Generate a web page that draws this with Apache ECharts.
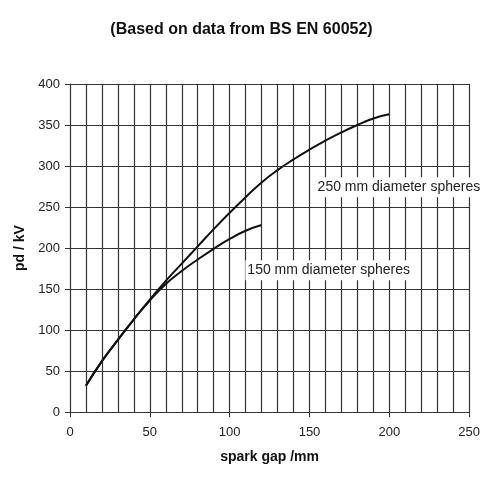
<!DOCTYPE html>
<html>
<head>
<meta charset="utf-8">
<script src="https://cdn.jsdelivr.net/npm/echarts@6/dist/echarts.min.js"></script>
<style>
  html, body { margin: 0; padding: 0; background: #fff; }
  #chart { width: 483px; height: 482px; }
</style>
</head>
<body>
<div id="chart"></div>
<script>
var gap250 = [10, 20, 30, 40, 50, 60, 70, 80, 90, 100, 110, 120, 130, 140, 150, 160, 170, 180, 190, 200];
var kv250 = [32, 62, 88, 113, 137, 160, 181, 202, 223, 243, 262, 280, 295, 308, 320, 331, 341, 350, 358, 363];
var gap150 = [10, 20, 30, 40, 50, 60, 70, 80, 90, 100, 110, 120];
var kv150 = [32, 62, 88, 113, 136, 156, 172, 186, 199, 211, 221, 228];

function pairs(xs, ys) {
    var out = [];
    for (var i = 0; i < xs.length; i++) {
        out.push([xs[i], ys[i]]);
    }
    return out;
}

var gridLine = { color: '#333', width: 1.2 };
var font = 'Liberation Sans, Arial, sans-serif';

function tag(text, x, y) {
    return {
        coord: [x, y],
        symbol: 'circle',
        symbolSize: 1,
        itemStyle: { color: 'rgba(0,0,0,0)' },
        label: {
            show: true,
            position: 'inside',
            formatter: text,
            color: '#222',
            fontFamily: font,
            fontSize: 14,
            backgroundColor: '#fff',
            padding: [3, 2]
        }
    };
}

var chart = echarts.init(document.getElementById('chart'));
chart.setOption({
    animation: false,
    title: {
        text: '(Based on data from BS EN 60052)',
        left: 'center',
        top: 17,
        textStyle: { fontFamily: font, fontSize: 16, fontWeight: 'bold', color: '#111' }
    },
    grid: { left: 70, right: 11, top: 84, bottom: 70 },
    xAxis: {
        type: 'value',
        min: 0,
        max: 250,
        interval: 50,
        name: 'spark gap /mm',
        nameLocation: 'middle',
        nameGap: 38,
        nameTextStyle: { fontFamily: font, fontSize: 14, fontWeight: 'bold', color: '#111' },
        axisLine: { lineStyle: { color: '#333' } },
        axisTick: { show: true, length: 5, lineStyle: { color: '#333' } },
        axisLabel: { fontFamily: font, fontSize: 13, color: '#222', margin: 14 },
        splitLine: { show: true, lineStyle: gridLine },
        minorTick: { show: false, splitNumber: 5 },
        minorSplitLine: { show: true, lineStyle: gridLine }
    },
    yAxis: {
        type: 'value',
        min: 0,
        max: 400,
        interval: 50,
        name: 'pd / kV',
        nameLocation: 'middle',
        nameGap: 39,
        nameTextStyle: { fontFamily: font, fontSize: 14, fontWeight: 'bold', color: '#111' },
        axisLine: { show: true, lineStyle: { color: '#333' } },
        axisTick: { show: true, length: 5, lineStyle: { color: '#333' } },
        axisLabel: { fontFamily: font, fontSize: 13, color: '#222', margin: 10 },
        splitLine: { show: true, lineStyle: gridLine }
    },
    series: [
        {
            name: '250 mm diameter spheres',
            type: 'line',
            data: pairs(gap250, kv250),
            smooth: true,
            showSymbol: false,
            lineStyle: { color: '#111', width: 2 },
            markPoint: { silent: true, data: [tag('250 mm diameter spheres', 206, 274)] },
            z: 3
        },
        {
            name: '150 mm diameter spheres',
            type: 'line',
            data: pairs(gap150, kv150),
            smooth: true,
            showSymbol: false,
            lineStyle: { color: '#111', width: 2 },
            markPoint: { silent: true, data: [tag('150 mm diameter spheres', 162, 173)] },
            z: 3
        }
    ]
});
</script>
</body>
</html>
